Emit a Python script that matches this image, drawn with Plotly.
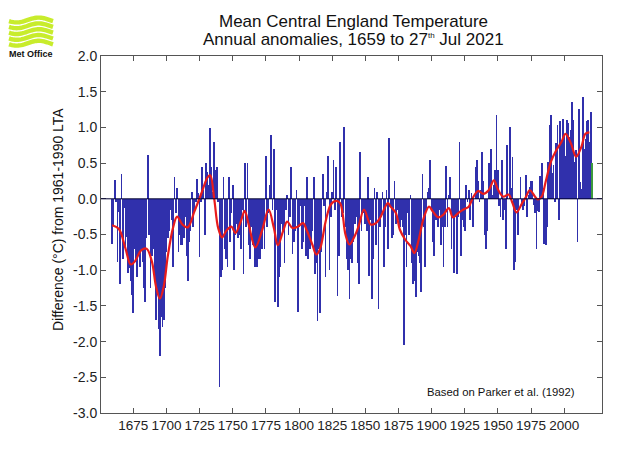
import plotly.graph_objects as go
import numpy as np

# ---------------- data (anomalies, degC vs 1961-1990) ----------------
years_main = list(range(1659, 2021))

anom_1659_1699 = [
    -0.63, -0.38, 0.27, -0.05, -0.88, -0.18, -1.20, 0.35, -0.85, -0.13,
    -0.71, -0.54, -1.04, -0.97, -1.15, -1.35, -1.60, -0.70, -0.88, -1.10,
    -0.80, -0.95, -0.72, -0.88, -1.25, -1.45, -0.55, 0.62, -0.50, -1.25,
    -0.80, -0.70, -1.05, -1.70, -1.30, -1.82, -2.20, -1.65, -1.80, -1.70,
    -1.25]

anom_1700s = [
    -0.75, -0.55, -0.45, -0.15, -0.30, -0.95, 0.30, -0.20, 0.15, -0.75,
    -0.50, -0.65, -0.65, -0.55, -0.25, -0.80, -1.15, -0.60, -0.45, 0.10,
    -0.40, -0.20, -0.05, 0.28, 0.08, -0.82, -0.05, 0.45, 0.12, -0.50,
    0.50, 0.38, 0.20, 0.99, 0.45, 0.10, 0.80, 0.40, 0.45, -0.05,
    -2.64, -1.10, -1.00, 0.30, -0.70, -0.85, -0.95, 0.30, -0.60, -0.20,
    0.20, -1.00, -0.50, -0.35, -0.55, -0.50, -0.70, -0.15, -1.05, 0.50,
    -0.40, 0.50, -0.65, -0.85, -0.40, -0.65, -0.60, -0.95, -0.95, -0.50,
    -0.85, -0.85, -0.70, -0.40, -0.70, 0.60, -0.40, -0.20, 0.20, 0.90,
    -0.15, 0.70, -1.45, -0.15, -1.52, -1.10, -0.95, -0.35, -0.45, -0.90,
    -0.15, 0.05, -0.50, -0.25, 0.45, -0.78, -0.60, -0.45, 0.12, -1.58]

anom_1800s = [
    -0.40, -0.10, -0.70, -0.60, -0.10, -0.80, 0.30, -0.85, -0.70, -0.60,
    -0.45, 0.30, -1.05, -0.90, -1.71, -0.70, -1.60, -0.75, 0.35, -0.10,
    -1.10, 0.10, 0.60, -1.00, -0.25, 0.10, 0.55, -0.15, 0.45, -1.36,
    -0.80, 0.80, -0.25, -0.20, 1.00, -0.40, -0.85, -1.00, -1.40, -0.85,
    -0.90, -0.60, -0.35, -0.25, -0.90, -1.20, 0.65, -0.45, -0.20, -0.05,
    -0.35, -0.45, 0.30, -1.08, -0.30, -1.40, -0.85, 0.15, -0.65, 0.10,
    -1.55, -0.40, -0.25, 0.10, -0.95, -0.40, 0.12, -0.70, 0.85, -0.10,
    -0.55, -0.50, 0.25, -0.35, -0.15, -0.30, -0.40, -0.30, -0.40, -2.05,
    -0.50, -0.95, -0.20, -0.50, 0.05, -0.90, -1.20, -1.15, -1.38, -0.75,
    -0.80, -0.90, -1.30, 0.35, -0.40, -0.95, -0.15, 0.10, 0.15, 0.55]

anom_1900s = [
    -0.15, -0.60, -0.80, -0.30, -0.30, -0.40, -0.15, -0.65, -0.40, -0.95,
    -0.40, 0.46, -0.40, 0.05, 0.30, -0.70, -0.25, -1.04, -0.25, -1.05,
    -0.25, 0.80, -0.80, -0.30, -0.40, -0.45, 0.20, -0.05, 0.12, -0.30,
    0.08, -0.40, 0.00, 0.45, 0.55, 0.25, -0.05, 0.12, 0.65, 0.25,
    -0.50, -0.70, -0.45, 0.50, 0.30, 0.70, 0.05, 0.20, 0.40, 1.17,
    0.40, -0.10, -0.25, 0.55, -0.30, -0.15, -0.70, 0.75, 0.00, 1.00,
    0.15, 0.58, -1.00, -0.88, -0.15, -0.50, 0.00, 0.30, -0.10, -0.15,
    -0.10, 0.33, -0.25, 0.05, 0.17, 0.25, 0.25, -0.08, -0.20, -0.71,
    -0.17, -0.18, 0.32, 0.50, 0.15, -0.63, -0.65, -0.40, 0.51, 1.04,
    1.17, 0.36, 0.47, -0.04, 0.78, 1.03, -0.30, 1.09, 0.80, 1.12]

anom_2000s = [
    0.89, 0.60, 1.11, 1.06, 0.86, 0.96, 1.36, 1.10, 0.51, 0.68,
    -0.60, 1.26, 0.24, 0.14, 1.43, 0.70, 0.84, 1.09, 1.10, 0.80,
    1.21]

year_partial = [2021]
anom_partial = [0.50]

# smoothed curve
smooth_years = [1659, 1664, 1669, 1673, 1676, 1681, 1685, 1689, 1692, 1695,
                1698, 1701, 1705, 1708, 1712, 1716, 1721, 1726, 1731, 1733,
                1736, 1739, 1742, 1745, 1749, 1752, 1756, 1759, 1762, 1767,
                1772, 1777, 1781, 1784, 1788, 1791, 1795, 1799, 1803, 1806,
                1810, 1813, 1816, 1820, 1824, 1828, 1831, 1835, 1838, 1842,
                1845, 1849, 1854, 1858, 1861, 1867, 1869, 1873, 1876, 1880,
                1884, 1887, 1890, 1894, 1898, 1901, 1905, 1909, 1913, 1916,
                1920, 1924, 1928, 1931, 1935, 1939, 1943, 1947, 1950, 1954,
                1958, 1961, 1964, 1968, 1971, 1974, 1978, 1980, 1983, 1986,
                1990, 1994, 1998, 2001, 2005, 2009, 2013, 2016, 2019]
smooth_vals = [-0.37, -0.42, -0.69, -0.92, -0.88, -0.72, -0.70, -0.88, -1.22, -1.40,
               -1.22, -0.80, -0.40, -0.25, -0.36, -0.40, -0.18, 0.06, 0.30, 0.33,
               0.00, -0.41, -0.54, -0.45, -0.39, -0.48, -0.32, -0.17, -0.36, -0.68,
               -0.45, -0.15, -0.41, -0.65, -0.45, -0.32, -0.41, -0.39, -0.34, -0.45,
               -0.64, -0.78, -0.69, -0.32, -0.08, -0.03, -0.06, -0.50, -0.64, -0.52,
               -0.38, -0.15, -0.36, -0.34, -0.27, -0.06, -0.11, -0.20, -0.43, -0.57,
               -0.66, -0.76, -0.59, -0.27, -0.11, -0.18, -0.26, -0.22, -0.13, -0.26,
               -0.20, -0.15, -0.11, 0.01, 0.11, 0.07, 0.12, 0.26, 0.13, 0.03,
               0.06, -0.06, -0.19, -0.07, 0.02, 0.12, 0.03, -0.01, 0.03, 0.24,
               0.52, 0.68, 0.80, 0.91, 0.78, 0.59, 0.73, 0.91, 0.93]

ytick_vals = [2.0, 1.5, 1.0, 0.5, 0.0, -0.5, -1.0, -1.5, -2.0, -2.5, -3.0]
ytick_text = ["2.0", "1.5", "1.0", "0.5", "0.0", "-0.5", "-1.0", "-1.5", "-2.0", "-2.5", "-3.0"]
xtick_vals = [1675, 1700, 1725, 1750, 1775, 1800, 1825, 1850, 1875, 1900, 1925, 1950, 1975, 2000]

anom_main = anom_1659_1699 + anom_1700s + anom_1800s + anom_1900s + anom_2000s

# ---------------- figure ----------------
W, H = 640, 463
L, R, T, B = 101, 602, 56, 413
FONT = "Liberation Sans, Arial, Helvetica, sans-serif"

def px(x):
    return (x - L) / (R - L)

def py(y):
    return (B - y) / (B - T)

fig = go.Figure()
fig.add_trace(go.Bar(x=years_main, y=anom_main, width=0.55,
                     marker=dict(color="#3030ac", line=dict(width=0)),
                     hoverinfo="skip"))
fig.add_trace(go.Bar(x=year_partial, y=anom_partial, width=0.55,
                     marker=dict(color="#3c9a3c", line=dict(width=0)),
                     hoverinfo="skip"))
fig.add_trace(go.Scatter(x=smooth_years, y=smooth_vals, mode="lines",
                         line=dict(color="#e81b1b", width=2.2, shape="spline", smoothing=1.0),
                         hoverinfo="skip"))

axis_common = dict(showgrid=False, zeroline=False, showline=True, linecolor="#555555",
                   linewidth=1, mirror="ticks", ticks="inside", ticklen=5,
                   tickcolor="#555555")

fig.update_xaxes(range=[1650.6, 2028.5], tickmode="array", tickvals=xtick_vals,
                 ticktext=[str(v) for v in xtick_vals], tickangle=0,
                 tickfont=dict(family=FONT, size=13.5, color="#222222"), **axis_common)
fig.update_yaxes(range=[-3.0, 2.0], tickmode="array", tickvals=ytick_vals,
                 ticktext=ytick_text,
                 tickfont=dict(family=FONT, size=14, color="#222222"), **axis_common)

shapes = [dict(type="line", xref="paper", yref="y", x0=0, x1=1, y0=0, y1=0,
               line=dict(color="#000033", width=1), layer="above")]

# Met Office logo stripes
xs = np.linspace(9, 53, 30)
for k, y0 in enumerate([20.0, 25.8, 31.6, 37.4, 43.2]):
    ys = y0 + 2.4 * np.sin(2 * np.pi * (xs - 9) / 44.0 + np.pi * 0.15)
    path = "M " + " L ".join(f"{px(a):.5f},{py(b):.5f}" for a, b in zip(xs, ys))
    shapes.append(dict(type="path", xref="paper", yref="paper", path=path,
                       line=dict(color="#c8ec2c", width=4.4)))

annotations = [
    dict(text="Mean Central England Temperature", x=px(353), y=py(22), xref="paper", yref="paper",
         showarrow=False, font=dict(family=FONT, size=17, color="#111111"), xanchor="center", yanchor="middle"),
    dict(text="Annual anomalies, 1659 to 27<sup><span style='font-size:8px'>th</span></sup> Jul 2021",
         x=px(353), y=py(40), xref="paper", yref="paper",
         showarrow=False, font=dict(family=FONT, size=17, color="#111111"), xanchor="center", yanchor="middle"),
    dict(text="Difference (°C) from 1961-1990 LTA", x=px(58), y=py(220), xref="paper", yref="paper",
         showarrow=False, textangle=-90, font=dict(family=FONT, size=14, color="#111111"),
         xanchor="center", yanchor="middle"),
    dict(text="Based on Parker et al. (1992)", x=px(577), y=py(392), xref="paper", yref="paper",
         showarrow=False, font=dict(family=FONT, size=11.3, color="#111111"), xanchor="right", yanchor="middle"),
    dict(text="<b>Met Office</b>", x=px(31), y=py(54), xref="paper", yref="paper",
         showarrow=False, font=dict(family=FONT, size=9, color="#111111"), xanchor="center", yanchor="middle"),
]

fig.update_layout(width=W, height=H, margin=dict(l=L, r=W - R, t=T, b=H - B, pad=0),
                  plot_bgcolor="white", paper_bgcolor="white", showlegend=False,
                  barmode="overlay", bargap=0, shapes=shapes, annotations=annotations)

fig.write_html("out.html", config={"displayModeBar": False},
               post_script="document.body.style.margin='0';")
